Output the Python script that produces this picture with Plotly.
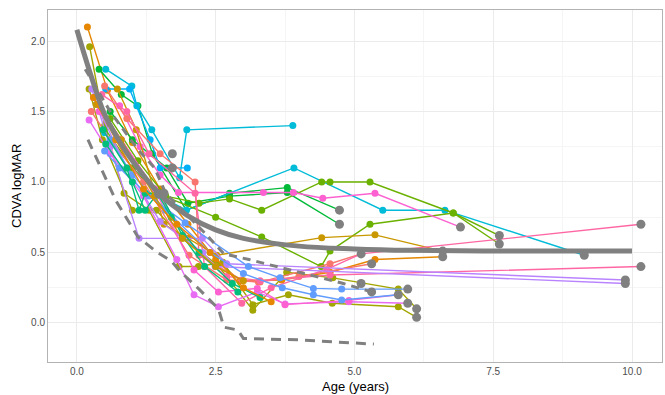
import plotly.graph_objects as go

# ---- palette (ggplot hue) ----
SALMON = '#F8766D'; ORANGE = '#E58700'; GOLD = '#C99800'; OLIVE = '#A3A500'
YGREEN = '#6BB100'; GREEN = '#00BA38'; TEAL = '#00BF7D'; CYAN = '#00BCD8'
LBLUE = '#00B0F6'; BLUE = '#619CFF'; LAV = '#B983FF'; VIOLET = '#E76BF3'
PINK = '#FD61D1'; HPINK = '#FF67A4'

# ---- subject trajectories: age (years), CDVA logMAR ----
s01_x = [0.19, 0.55, 1.0, 1.5, 2.0, 2.5, 2.94, 3.69, 4.56, 5.37, 6.59]
s01_y = [2.10, 1.65, 1.28, 0.95, 0.70, 0.45, 0.30, 0.305, 0.36, 0.45, 0.47]
s02_x = [0.23, 0.5, 0.85, 1.3, 1.84, 2.19, 2.63, 3.17, 3.81, 4.6, 5.79, 6.12]
s02_y = [1.96, 1.40, 0.92, 0.80, 0.40, 0.40, 0.43, 0.13, 0.20, 0.14, 0.115, 0.04]
s03_x = [0.22, 0.46, 1.0, 1.43, 1.9, 2.54, 3.17, 3.78, 4.61, 5.79, 6.12]
s03_y = [1.66, 1.30, 0.80, 0.80, 0.60, 0.41, 0.09, 0.36, 0.32, 0.24, 0.10]
s04_x = [0.40, 0.8, 1.10, 1.36, 1.97, 2.75, 3.79, 4.73]
s04_y = [1.80, 1.62, 1.54, 1.20, 0.80, 0.92, 0.96, 0.80]
s05_x = [0.6, 1.0, 1.62, 2.0, 2.75, 3.79, 4.73]
s05_y = [1.50, 1.30, 1.10, 0.85, 0.90, 0.925, 0.70]
s06_x = [0.52, 0.99, 1.08, 1.35, 1.85, 1.98, 3.89]
s06_y = [1.80, 1.68, 1.54, 1.37, 1.03, 1.37, 1.40]
s07_x = [0.52, 0.95, 1.32, 1.5, 1.72, 1.99]
s07_y = [1.66, 1.66, 1.30, 1.10, 1.10, 1.10]
s08_x = [0.5, 1.0, 1.5, 1.97, 3.91, 5.51, 6.63, 9.14]
s08_y = [1.35, 1.10, 0.90, 0.80, 1.10, 0.80, 0.80, 0.48]
s09_x = [0.6, 1.1, 1.6, 2.2, 2.75, 3.33, 4.41, 4.56, 5.28, 6.78, 7.61]
s09_y = [1.45, 1.15, 0.90, 0.85, 0.88, 0.80, 1.0, 1.0, 1.0, 0.78, 0.62]
s10_x = [0.5, 1.0, 1.44, 2.5, 3.33, 4.40, 4.56, 5.28, 6.78, 7.61]
s10_y = [1.38, 1.10, 0.92, 0.75, 0.61, 0.40, 0.51, 0.70, 0.78, 0.56]
s11_x = [0.77, 1.14, 1.5, 1.83, 3.36, 3.9, 4.43, 5.37, 6.91]
s11_y = [1.54, 1.25, 1.05, 0.925, 0.925, 0.925, 0.885, 0.92, 0.68]
s12_x = [0.73, 1.07, 1.57, 2.0, 2.52, 4.41, 5.37, 6.59]
s12_y = [1.66, 1.37, 0.70, 0.60, 0.48, 0.605, 0.625, 0.51]
s13_x = [0.26, 0.6, 1.2, 2.02, 2.7, 3.3, 4.56, 5.12]
s13_y = [1.50, 1.30, 1.00, 0.48, 0.305, 0.29, 0.42, 0.49]
s14_x = [0.5, 0.9, 1.5, 2.13, 2.2, 2.97, 3.27, 4.0, 5.31]
s14_y = [1.68, 1.45, 1.20, 1.00, 0.48, 0.305, 0.29, 0.33, 0.42]
s15_x = [0.45, 0.9, 1.3, 2.13, 2.3, 2.97, 3.5, 4.5, 5.12, 10.16]
s15_y = [1.62, 1.50, 1.20, 0.92, 0.40, 0.14, 0.25, 0.38, 0.49, 0.70]
s16_x = [0.3, 0.8, 1.4, 2.2, 2.7, 3.3, 4.56, 10.16]
s16_y = [1.60, 1.30, 0.95, 0.49, 0.33, 0.30, 0.34, 0.40]
s17_x = [0.27, 0.6, 1.12, 2.26, 2.7, 9.88]
s17_y = [1.66, 1.25, 0.60, 0.60, 0.42, 0.305]
s18_x = [0.35, 0.9, 1.5, 2.27, 2.49, 9.88]
s18_y = [1.55, 1.10, 0.72, 0.50, 0.40, 0.28]
s19_x = [0.22, 0.6, 1.2, 1.8, 2.11, 2.55, 3.25, 3.75, 4.9, 5.96]
s19_y = [1.44, 1.20, 0.90, 0.45, 0.20, 0.115, 0.22, 0.135, 0.15, 0.14]
s20_x = [0.4, 0.8, 1.4, 2.11, 2.55, 3.25, 3.75, 4.9, 5.79]
s20_y = [1.50, 1.30, 0.95, 0.375, 0.22, 0.245, 0.13, 0.16, 0.20]
s21_x = [0.5, 0.77, 1.3, 1.95, 3.09, 3.66, 4.26, 4.77, 5.96]
s21_y = [1.22, 1.10, 0.90, 0.71, 0.40, 0.32, 0.245, 0.24, 0.24]
s22_x = [0.6, 1.0, 1.6, 2.4, 3.0, 3.7, 4.26, 4.77, 5.79]
s22_y = [1.30, 1.05, 0.80, 0.50, 0.35, 0.25, 0.20, 0.163, 0.20]
s23_x = [0.47, 0.9, 1.12, 1.23, 1.5, 1.9, 2.3, 2.9]
s23_y = [1.37, 1.10, 0.80, 0.92, 0.92, 0.62, 0.40, 0.22]
s24_x = [0.52, 1.0, 1.23, 1.45, 1.7, 2.2, 2.8, 3.3]
s24_y = [1.27, 1.00, 0.80, 0.92, 0.75, 0.50, 0.28, 0.18]
s25_x = [0.35, 0.8, 1.4, 1.9, 2.5, 3.0]
s25_y = [1.55, 1.30, 0.90, 0.60, 0.40, 0.30]
s26_x = [0.3, 0.7, 1.2, 1.8, 2.4, 3.0, 3.5]
s26_y = [1.60, 1.30, 0.95, 0.70, 0.50, 0.25, 0.15]

subjects = [
    (s01_x, s01_y, ORANGE), (s02_x, s02_y, OLIVE), (s03_x, s03_y, OLIVE),
    (s04_x, s04_y, GREEN), (s05_x, s05_y, GREEN), (s06_x, s06_y, CYAN),
    (s07_x, s07_y, LBLUE), (s08_x, s08_y, CYAN), (s09_x, s09_y, YGREEN),
    (s10_x, s10_y, YGREEN), (s11_x, s11_y, PINK), (s12_x, s12_y, GOLD),
    (s13_x, s13_y, SALMON), (s14_x, s14_y, SALMON), (s15_x, s15_y, HPINK),
    (s16_x, s16_y, HPINK), (s17_x, s17_y, LAV), (s18_x, s18_y, LAV),
    (s19_x, s19_y, VIOLET), (s20_x, s20_y, PINK), (s21_x, s21_y, BLUE),
    (s22_x, s22_y, BLUE), (s23_x, s23_y, TEAL), (s24_x, s24_y, TEAL),
    (s25_x, s25_y, GOLD), (s26_x, s26_y, ORANGE),
]

# ---- final-visit points (grey) ----
end_x = [1.72, 1.72, 1.47, 1.57, 4.73, 4.73, 6.91, 7.61, 7.61, 5.12, 5.31, 6.59, 6.59,
         9.14, 10.16, 10.16, 9.88, 9.88, 5.12, 5.31, 5.96, 5.79, 5.96, 6.12, 6.12]
end_y = [1.20, 1.10, 0.915, 0.92, 0.80, 0.70, 0.68, 0.62, 0.56, 0.49, 0.42, 0.51, 0.47,
         0.48, 0.70, 0.40, 0.305, 0.28, 0.28, 0.22, 0.24, 0.20, 0.14, 0.10, 0.04]

# ---- fitted curve ----
fit_x = [0, 0.25, 0.5, 0.75, 1.0, 1.5, 2.0, 2.5, 3.0, 4.0, 5.0, 6.0, 8.0, 10.0]
fit_y = [2.08, 1.76, 1.48, 1.30, 1.15, 0.91, 0.76, 0.66, 0.60, 0.545, 0.525, 0.515, 0.51, 0.51]

# ---- dashed reference curves ----
low_x = [0.2, 0.7, 1.1, 1.45, 1.7, 1.85, 2.2, 2.55, 2.65, 2.9, 3.0, 4.0, 5.35]
low_y = [1.30, 0.87, 0.61, 0.50, 0.44, 0.37, 0.24, 0.10, -0.03, -0.05, -0.11, -0.12, -0.15]
mid_x = [0.15, 0.6, 1.1, 1.4, 1.6, 2.3, 2.65, 3.1, 4.0, 4.8, 5.31]
mid_y = [1.80, 1.50, 1.23, 1.10, 0.92, 0.64, 0.49, 0.45, 0.36, 0.28, 0.22]

x_ticks = [0, 2.5, 5, 7.5, 10]
x_labels = ['0.0', '2.5', '5.0', '7.5', '10.0']
y_ticks = [0, 0.5, 1.0, 1.5, 2.0]
y_labels = ['0.0', '0.5', '1.0', '1.5', '2.0']

FONT = 'Liberation Sans, Arial'

fig = go.Figure()
for sx, sy, col in subjects:
    fig.add_trace(go.Scatter(x=sx, y=sy, mode='lines+markers',
                             line=dict(color=col, width=1.4),
                             marker=dict(color=col, size=7),
                             showlegend=False, hoverinfo='skip'))

fig.add_trace(go.Scatter(x=end_x, y=end_y, mode='markers',
                         marker=dict(color='#808080', size=9),
                         showlegend=False))
fig.add_trace(go.Scatter(x=fit_x, y=fit_y, mode='lines',
                         line=dict(color='#808080', width=5, shape='spline'),
                         showlegend=False))
fig.add_trace(go.Scatter(x=mid_x, y=mid_y, mode='lines',
                         line=dict(color='#808080', width=3, dash='8px,6px'),
                         showlegend=False))
fig.add_trace(go.Scatter(x=low_x, y=low_y, mode='lines',
                         line=dict(color='#808080', width=3, dash='10px,7px'),
                         showlegend=False))

axis_common = dict(showgrid=True, gridcolor='#EBEBEB', gridwidth=1,
                   minor=dict(showgrid=True, gridcolor='#F5F5F5', gridwidth=0.6),
                   zeroline=False, showline=True, linecolor='#B3B3B3', linewidth=1,
                   mirror=True, ticks='', automargin=False,
                   tickfont=dict(size=10, color='#4D4D4D', family=FONT))

fig.update_xaxes(range=[-0.52, 10.54], tickvals=x_ticks, ticktext=x_labels,
                 minor_tickvals=[1.25, 3.75, 6.25, 8.75], **axis_common)
fig.update_yaxes(range=[-0.277, 2.22], tickvals=y_ticks, ticktext=y_labels,
                 minor_tickvals=[0.25, 0.75, 1.25, 1.75], **axis_common)

fig.add_annotation(text='Age (years)', xref='paper', yref='paper', x=0.5, y=0,
                   yshift=-34, showarrow=False, xanchor='center', yanchor='bottom',
                   font=dict(size=13, color='black', family=FONT))
fig.add_annotation(text='CDVA logMAR', xref='paper', yref='paper', x=0, y=0.5,
                   xshift=-32, showarrow=False, textangle=-90, xanchor='center',
                   yanchor='middle', font=dict(size=13, color='black', family=FONT))

fig.update_layout(width=665, height=395, margin=dict(l=48, r=3, t=10, b=33),
                  plot_bgcolor='white', paper_bgcolor='white', hovermode=False)
fig.write_html('out.html', config={'displayModeBar': False},
               post_script="document.body.style.margin='0px';document.body.style.overflow='hidden';")
